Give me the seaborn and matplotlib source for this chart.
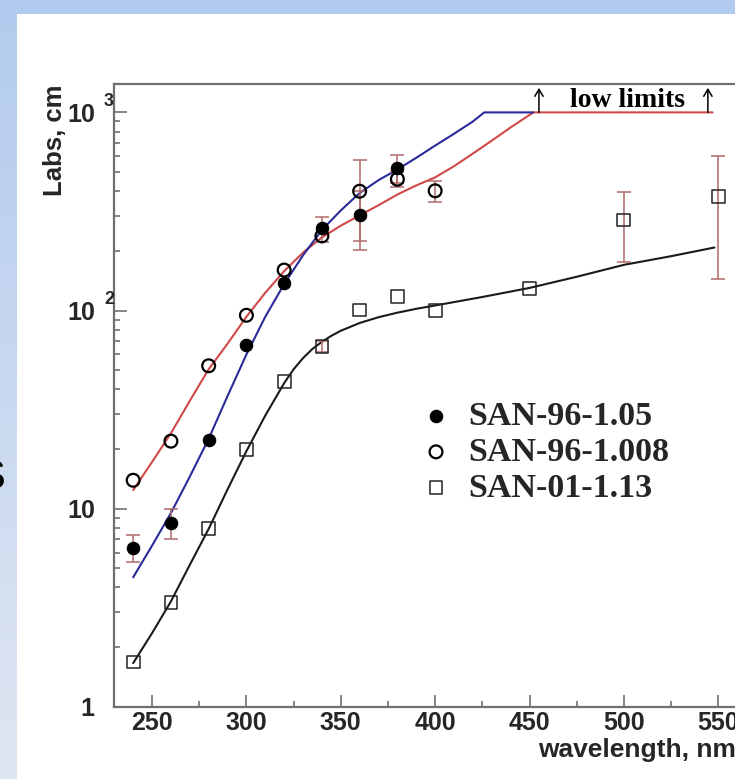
import numpy as np
import matplotlib
matplotlib.use("Agg")
import matplotlib.pyplot as plt
import seaborn as sns
from matplotlib.colors import LinearSegmentedColormap
from matplotlib.patches import Rectangle
from matplotlib.font_manager import FontProperties
from matplotlib.ticker import MultipleLocator, LogLocator, NullFormatter
from matplotlib.transforms import offset_copy, blended_transform_factory

# ---- measured absorption lengths (cm) ----
wl_105 = [240, 260, 280, 300, 320, 340, 360, 380]
abs_105 = [6.35, 8.5, 22.2, 67, 137, 260, 303, 525]
err_105 = [1.0, 1.5, 0, 0, 0, 37, 100, 85]

wl_1008 = [240, 260, 280, 300, 320, 340, 360, 380, 400]
abs_1008 = [13.9, 21.9, 52.6, 94.6, 160, 238, 400, 460, 402]
err_1008 = [0, 0, 0, 0, 0, 0, 175, 38, 48]

wl_113 = [240, 260, 280, 300, 320, 340, 360, 380, 400, 450, 500, 550]
abs_113 = [1.68, 3.37, 7.95, 19.8, 43.7, 66, 100.6, 118, 99.7, 129.5, 286, 375]
err_113 = [0, 0, 0, 0, 0, 4, 0, 0, 0, 0, 110, 230]

# ---- fitted curves ----
fit_105_wl = [240, 250, 260, 270, 280, 290, 300, 310, 320, 330, 340, 350, 360,
              370, 380, 390, 400, 410, 420, 426, 452]
fit_105_val = [4.5, 6.5, 9.5, 14.5, 22.5, 37, 60, 93, 136, 190, 255, 320, 392,
               455, 515, 590, 680, 780, 900, 1000, 1000]

fit_1008_wl = [240, 250, 260, 270, 280, 290, 300, 310, 320, 330, 340, 350, 360,
               370, 380, 390, 400, 410, 420, 430, 440, 452, 547]
fit_1008_val = [12.4, 17.2, 24, 35, 50.5, 68, 93, 123, 158, 196, 234, 268, 302,
                340, 385, 428, 470, 535, 620, 720, 840, 1000, 1000]

fit_113_wl = [240, 250, 260, 270, 280, 290, 300, 310, 320, 325, 330, 335, 340,
              345, 350, 360, 370, 380, 390, 400, 425, 450, 475, 500, 525, 548]
fit_113_val = [1.66, 2.35, 3.4, 5.2, 7.9, 12.5, 19.5, 29.5, 43, 50.5, 57.5, 64,
               69.5, 74.5, 79, 86.5, 92.5, 97.5, 102, 106, 117, 130, 148, 170,
               188, 208]

series_labels = ["SAN-96-1.05", "SAN-96-1.008", "SAN-01-1.13"]
xticks = [250, 300, 350, 400, 450, 500, 550]
yticks = [1, 10, 100, 1000]
ytick_base = ["1", "10", "10", "10"]
ytick_exp = ["", "", "2", "3"]
limit_arrow_wl = [455, 544.5]
limit_text = "low limits"

BLUE = "#2a2a9a"
RED = "#d04848"
ERR = "#b06a6a"
AXC = "#707070"

sns.set_style("ticks")
plt.rcParams["font.family"] = ["Liberation Sans", "DejaVu Sans"]

W, H = 735, 779
fig = plt.figure(figsize=(W / 100, H / 100), dpi=100)

# slide background: blue bands on the top and left, white panel
bg = fig.add_axes([0, 0, 1, 1], zorder=-10)
bg.axis("off")
band = LinearSegmentedColormap.from_list("band", ["#b3cbee", "#dfe6f1"])
bg.imshow(np.linspace(0, 1, 256)[:, None], aspect="auto", cmap=band,
          extent=[0, 1, 0, 1], origin="upper")
bg.add_patch(Rectangle((17 / W, 0), 1, 1 - 14 / H, color="white", lw=0))
bg.set_xlim(0, 1)
bg.set_ylim(0, 1)
fig.text(5 / W, 1 - 478 / H, "S", ha="right", va="center", fontsize=30,
         color="black")

# main axes (right part runs past the figure edge)
x0, x1 = 114.3, 756.0
yb, yt = 706.7, 84.0
ax = fig.add_axes([x0 / W, (H - yb) / H, (x1 - x0) / W, (yb - yt) / H])
ax.set_facecolor("white")
ax.set_yscale("log")
ax.set_xlim(230, 570)
ax.set_ylim(1, 10 ** ((yb - yt) / 198.1))

# fitted curves
sns.lineplot(x=fit_1008_wl, y=fit_1008_val, color=RED, lw=1.5, sort=False,
             estimator=None, ax=ax, zorder=2)
sns.lineplot(x=fit_105_wl, y=fit_105_val, color=BLUE, lw=1.5, sort=False,
             estimator=None, ax=ax, zorder=2)
sns.lineplot(x=fit_113_wl, y=fit_113_val, color="#1a1a1a", lw=1.5, sort=False,
             estimator=None, ax=ax, zorder=2)

# error bars
for wl, val, err in [(wl_105, abs_105, err_105), (wl_1008, abs_1008, err_1008),
                     (wl_113, abs_113, err_113)]:
    wl, val, err = np.asarray(wl), np.asarray(val), np.asarray(err)
    m = err > 0
    ax.errorbar(wl[m], val[m], yerr=err[m], fmt="none", ecolor=ERR,
                elinewidth=1.1, capsize=5, capthick=1.1, zorder=3)

# data points
sns.scatterplot(x=wl_105, y=abs_105, marker="o", s=80, color="black",
                edgecolor="black", linewidth=0.8, zorder=5,
                label=series_labels[0], ax=ax)
sns.scatterplot(x=wl_1008, y=abs_1008, marker="o", s=85, color="black",
                linewidth=1.6, zorder=5, label=series_labels[1], ax=ax)
ax.collections[-1].set_facecolor("none")
ax.collections[-1].set_edgecolor("black")
sns.scatterplot(x=wl_113, y=abs_113, marker="s", s=85, color="black",
                linewidth=1.1, zorder=5, label=series_labels[2], ax=ax)
ax.collections[-1].set_facecolor("none")
ax.collections[-1].set_edgecolor("#222222")

# spines and ticks
for side in ["top", "left", "bottom", "right"]:
    ax.spines[side].set_color(AXC)
    ax.spines[side].set_linewidth(1.6)
ax.tick_params(which="major", direction="in", length=9, width=1.2, color=AXC)
ax.tick_params(which="minor", direction="in", length=4.5, width=1.2, color=AXC)
ax.xaxis.set_minor_locator(MultipleLocator(25))
ax.yaxis.set_minor_locator(LogLocator(base=10, subs=np.arange(2, 10)))
ax.yaxis.set_minor_formatter(NullFormatter())

ax.set_xticks(xticks, [str(v) for v in xticks])
ax.set_yticks(yticks, ytick_base)
for lab in ax.get_xticklabels() + ax.get_yticklabels():
    lab.set_fontweight("bold")
    lab.set_fontsize(18)
ax.tick_params(axis="x", which="major", pad=3)
ax.tick_params(axis="y", which="major", pad=14)

# decade exponents next to the "10" labels
bt = blended_transform_factory(ax.transAxes, ax.transData)
for t, e in zip(yticks, ytick_exp):
    if e:
        ax.text((104 - x0) / (x1 - x0), t, e, ha="left", va="center",
                fontsize=13, fontweight="bold",
                transform=offset_copy(bt, fig=fig, x=0, y=11, units="dots"))

ax.set_xlabel("wavelength, nm", fontsize=19, fontweight="bold", ha="left")
ax.xaxis.set_label_coords((538 - x0) / (x1 - x0), (yb - 738) / (yb - yt))
ax.set_ylabel("Labs, cm", fontsize=18.5, fontweight="bold", rotation=90,
              rotation_mode="default", ha="center", va="top")
ax.yaxis.set_label_coords((55.5 - x0) / (x1 - x0), (yb - 85) / (yb - yt))

# lower-limit markers at the top
for lw_ in limit_arrow_wl:
    ax.annotate("", xy=(lw_, 1330), xytext=(lw_, 1000),
                arrowprops=dict(arrowstyle="->,head_length=0.5,head_width=0.3",
                                lw=1.1, color="black", shrinkA=0, shrinkB=0))
serif_bold = FontProperties(family="Liberation Serif", weight="bold", size=20)
ax.text(471.4, 1065, limit_text, ha="left", va="baseline",
        fontproperties=serif_bold, color="black")

leg = ax.legend(loc="upper left", bbox_to_anchor=(419 / W, 1 - 401 / H),
                bbox_transform=fig.transFigure, frameon=False,
                prop=FontProperties(family="Liberation Serif", weight="bold",
                                    size=24.5),
                handlelength=1.0, handletextpad=0.44, labelspacing=0.14,
                borderpad=0, borderaxespad=0, markerscale=1.0)

fig.savefig("out.png", dpi=100)
